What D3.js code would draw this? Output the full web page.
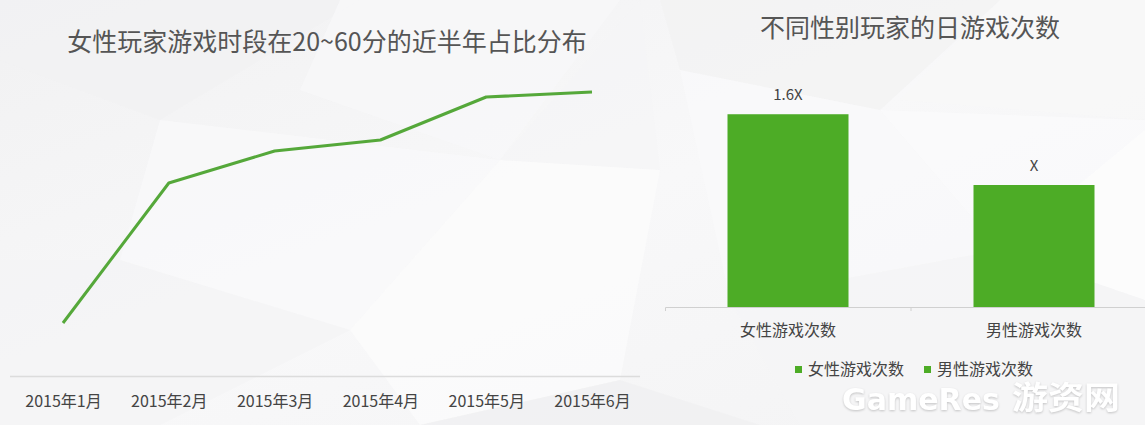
<!DOCTYPE html>
<html><head><meta charset="utf-8">
<script src="https://cdn.jsdelivr.net/npm/d3@7/dist/d3.min.js"></script>
<style>
html,body{margin:0;padding:0;background:#f4f4f5;}
svg{display:block;font-family:"Noto Sans CJK SC","Noto Sans",sans-serif;}
</style></head>
<body>
<svg id="c" width="1145" height="425"></svg>
<script>
// ---- data ----
const lineTitle = "女性玩家游戏时段在20~60分的近半年占比分布";
const months = ["2015年1月","2015年2月","2015年3月","2015年4月","2015年5月","2015年6月"];
const shareValues = [5.5, 19.5, 22.7, 23.8, 28.1, 28.6];

const barTitle = "不同性别玩家的日游戏次数";
const genders = ["女性游戏次数","男性游戏次数"];
const timesValues = [1.58, 1.0];
const timesLabels = ["1.6X","X"];

const svg = d3.select("#c");
const W = 1145, H = 425;

// ---- background (low-poly look) ----
const defs = svg.append("defs");
const g0 = defs.append("linearGradient").attr("id","bg").attr("x1",0).attr("y1",0).attr("x2",1).attr("y2",1);
g0.append("stop").attr("offset","0%").attr("stop-color","#f1f1f2");
g0.append("stop").attr("offset","50%").attr("stop-color","#f8f8f9");
g0.append("stop").attr("offset","100%").attr("stop-color","#f3f3f4");
svg.append("rect").attr("width",W).attr("height",H).attr("fill","url(#bg)");
const polys = [
  {p:[[0,0],[360,0],[160,120],[0,60]], f:"#f1f1f2"},
  {p:[[340,0],[620,0],[500,160],[300,90]], f:"#f8f8f9"},
  {p:[[160,120],[500,160],[350,330],[120,260]], f:"#f9f9fa"},
  {p:[[500,160],[640,0],[660,170],[500,160]], f:"#f5f5f6"},
  {p:[[350,330],[500,160],[660,170],[620,380],[420,425]], f:"#fbfbfb"},
  {p:[[0,260],[120,260],[350,330],[160,425],[0,425]], f:"#f4f4f5"},
  {p:[[420,425],[620,380],[760,425]], f:"#f0f0f1"},
  {p:[[660,0],[1000,0],[880,110],[680,70]], f:"#f2f2f3"},
  {p:[[1000,0],[1145,0],[1145,120],[900,100]], f:"#f7f7f8"},
  {p:[[680,70],[880,110],[1000,250],[730,300]], f:"#f9f9fa"},
  {p:[[880,110],[1145,120],[1145,300],[1000,250]], f:"#fafafb"},
  {p:[[730,300],[1000,250],[1145,300],[1145,425],[800,425]], f:"#f5f5f6"},
  {p:[[1000,250],[1145,130],[1145,300]], f:"#fcfcfc"}
];
svg.append("g").selectAll("polygon").data(polys).join("polygon")
  .attr("points",d=>d.p.map(q=>q.join(",")).join(" "))
  .attr("fill",d=>d.f).attr("opacity",0.8);

// ---- line chart ----
const lx = d3.scalePoint().domain(months).range([63,592]);
const ly = d3.scaleLinear().domain([0,30]).range([378,78]);

svg.append("text").attr("x",327).attr("y",51).attr("text-anchor","middle")
  .attr("font-size",25).attr("fill","#555").text(lineTitle);

svg.append("line").attr("x1",10).attr("x2",640).attr("y1",376.5).attr("y2",376.5)
  .attr("stroke","#dcdcdc").attr("stroke-width",1.5);

const lineAxis = svg.append("g").attr("transform","translate(0,376)")
  .call(d3.axisBottom(lx).tickSize(0).tickPadding(20));
lineAxis.select(".domain").remove();
lineAxis.selectAll("text").attr("font-size",16).attr("fill","#444")
  .attr("font-family","'Noto Sans CJK SC',sans-serif");

svg.append("path").datum(shareValues)
  .attr("fill","none").attr("stroke","#55a83a").attr("stroke-width",3)
  .attr("stroke-linejoin","round")
  .attr("d", d3.line().x((d,i)=>lx(months[i])).y(d=>ly(d)));

// ---- bar chart ----
svg.append("text").attr("x",910).attr("y",37).attr("text-anchor","middle")
  .attr("font-size",25).attr("fill","#555").text(barTitle);

const bx = d3.scaleBand().domain(genders).range([665,1157]).paddingInner(0).paddingOuter(0);
const by = d3.scaleLinear().domain([0,1]).range([307,185]);
const bw = 121;

const barAxis = svg.append("g").attr("transform","translate(0,307)")
  .call(d3.axisBottom(bx).tickSize(4).tickPadding(14).tickSizeOuter(4));
barAxis.select(".domain").attr("stroke","#d0d0d0");
barAxis.selectAll(".tick line").remove();
barAxis.selectAll("text").attr("font-size",16).attr("fill","#444")
  .attr("font-family","'Noto Sans CJK SC',sans-serif");
// tick at band boundary
svg.append("line").attr("x1",bx(genders[1])).attr("x2",bx(genders[1]))
  .attr("y1",307).attr("y2",311).attr("stroke","#d0d0d0");

svg.append("g").selectAll("rect").data(timesValues).join("rect")
  .attr("x",(d,i)=>bx(genders[i])+bx.bandwidth()/2-bw/2)
  .attr("width",bw)
  .attr("y",d=>by(d)).attr("height",d=>307-by(d))
  .attr("fill","#4dac26");

svg.append("g").selectAll("text").data(timesValues).join("text")
  .attr("x",(d,i)=>bx(genders[i])+bx.bandwidth()/2)
  .attr("y",d=>by(d)-14).attr("text-anchor","middle")
  .attr("font-size",15).attr("fill","#444").text((d,i)=>timesLabels[i]);

// legend
const legX = [795, 924];
const leg = svg.append("g").selectAll("g").data(genders).join("g")
  .attr("transform",(d,i)=>`translate(${legX[i]},369)`);
leg.append("rect").attr("x",0).attr("y",-3).attr("width",7).attr("height",7).attr("fill","#4dac26");
leg.append("text").attr("x",13).attr("y",6).attr("font-size",16).attr("fill","#444").text(d=>d);

// watermark
svg.append("text").attr("x",842).attr("y",410)
  .attr("font-size",30).attr("font-weight","bold").attr("fill","#ffffff")
  .attr("font-family","'DejaVu Sans','Noto Sans CJK SC',sans-serif")
  .attr("textLength",158).attr("lengthAdjust","spacingAndGlyphs")
  .attr("style","filter:drop-shadow(0px 1px 1px rgba(0,0,0,0.2))")
  .text("GameRes");
svg.append("text").attr("x",1012).attr("y",409)
  .attr("font-size",32).attr("font-weight","bold").attr("fill","#ffffff")
  .attr("textLength",108).attr("lengthAdjust","spacingAndGlyphs")
  .attr("style","filter:drop-shadow(0px 1px 1px rgba(0,0,0,0.2))")
  .text("游资网");
</script>
</body></html>
